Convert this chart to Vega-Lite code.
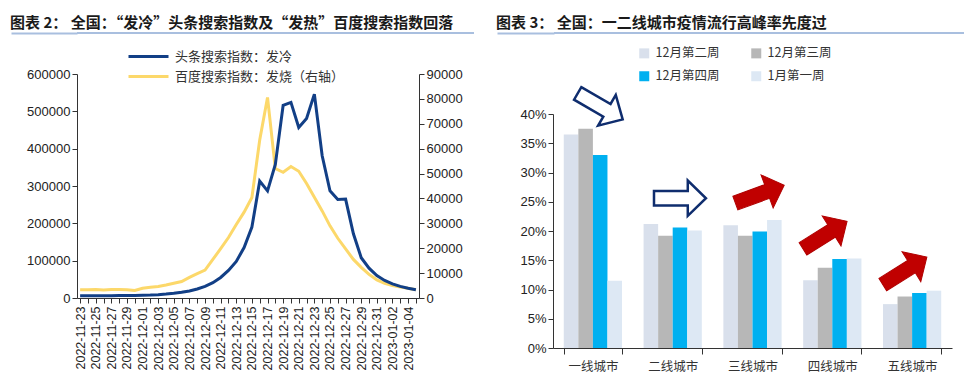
{
  "$schema": "https://vega.github.io/schema/vega-lite/v6.json",
  "padding": {"left": 10, "top": 16, "right": 0, "bottom": 0},
  "background": "white",
  "config": {
    "view": {"stroke": null},
    "font": "Noto Sans CJK SC",
    "axis": {"labelFont": "Liberation Sans", "labelFontSize": 13, "labelColor": "#222", "domainColor": "#333", "tickColor": "#333", "grid": false, "title": null, "tickSize": 5}
  },
  "resolve": {"scale": {"color": "independent"}, "legend": {"color": "independent"}},
  "datasets": {
    "trend": [
      {"d": "2022-11-23", "cold": 6000, "fever": 3300},
      {"d": "2022-11-24", "cold": 6000, "fever": 3300},
      {"d": "2022-11-25", "cold": 6000, "fever": 3400},
      {"d": "2022-11-26", "cold": 6200, "fever": 3200},
      {"d": "2022-11-27", "cold": 6300, "fever": 3400},
      {"d": "2022-11-28", "cold": 6500, "fever": 3400},
      {"d": "2022-11-29", "cold": 6800, "fever": 3300},
      {"d": "2022-11-30", "cold": 7000, "fever": 3000},
      {"d": "2022-12-01", "cold": 7500, "fever": 3900},
      {"d": "2022-12-02", "cold": 8000, "fever": 4300},
      {"d": "2022-12-03", "cold": 9000, "fever": 4600},
      {"d": "2022-12-04", "cold": 10500, "fever": 5200},
      {"d": "2022-12-05", "cold": 12500, "fever": 5900},
      {"d": "2022-12-06", "cold": 15500, "fever": 6600},
      {"d": "2022-12-07", "cold": 19000, "fever": 8300},
      {"d": "2022-12-08", "cold": 24000, "fever": 9800},
      {"d": "2022-12-09", "cold": 31000, "fever": 11200},
      {"d": "2022-12-10", "cold": 41000, "fever": 15500},
      {"d": "2022-12-11", "cold": 55000, "fever": 19800},
      {"d": "2022-12-12", "cold": 74000, "fever": 24300},
      {"d": "2022-12-13", "cold": 98000, "fever": 29500},
      {"d": "2022-12-14", "cold": 135000, "fever": 34500},
      {"d": "2022-12-15", "cold": 190000, "fever": 40400},
      {"d": "2022-12-16", "cold": 313000, "fever": 63500},
      {"d": "2022-12-17", "cold": 287000, "fever": 80600},
      {"d": "2022-12-18", "cold": 358000, "fever": 52000},
      {"d": "2022-12-19", "cold": 516000, "fever": 50500},
      {"d": "2022-12-20", "cold": 524000, "fever": 52800},
      {"d": "2022-12-21", "cold": 457000, "fever": 50900},
      {"d": "2022-12-22", "cold": 481000, "fever": 46000},
      {"d": "2022-12-23", "cold": 546000, "fever": 40500},
      {"d": "2022-12-24", "cold": 381000, "fever": 35000},
      {"d": "2022-12-25", "cold": 287000, "fever": 29000},
      {"d": "2022-12-26", "cold": 264000, "fever": 24000},
      {"d": "2022-12-27", "cold": 265000, "fever": 19700},
      {"d": "2022-12-28", "cold": 172000, "fever": 15500},
      {"d": "2022-12-29", "cold": 108000, "fever": 12300},
      {"d": "2022-12-30", "cold": 80000, "fever": 9500},
      {"d": "2022-12-31", "cold": 60000, "fever": 7300},
      {"d": "2023-01-01", "cold": 47000, "fever": 5900},
      {"d": "2023-01-02", "cold": 38000, "fever": 5000},
      {"d": "2023-01-03", "cold": 31000, "fever": 4400},
      {"d": "2023-01-04", "cold": 26000, "fever": 3900},
      {"d": "2023-01-05", "cold": 22000, "fever": 3300}
    ],
    "bars": [
      {"city": "一线城市", "week": "12月第二周", "rate": 0.365},
      {"city": "一线城市", "week": "12月第三周", "rate": 0.375},
      {"city": "一线城市", "week": "12月第四周", "rate": 0.33},
      {"city": "一线城市", "week": "1月第一周", "rate": 0.115},
      {"city": "二线城市", "week": "12月第二周", "rate": 0.212},
      {"city": "二线城市", "week": "12月第三周", "rate": 0.192},
      {"city": "二线城市", "week": "12月第四周", "rate": 0.206},
      {"city": "二线城市", "week": "1月第一周", "rate": 0.201},
      {"city": "三线城市", "week": "12月第二周", "rate": 0.21},
      {"city": "三线城市", "week": "12月第三周", "rate": 0.192},
      {"city": "三线城市", "week": "12月第四周", "rate": 0.199},
      {"city": "三线城市", "week": "1月第一周", "rate": 0.219},
      {"city": "四线城市", "week": "12月第二周", "rate": 0.116},
      {"city": "四线城市", "week": "12月第三周", "rate": 0.137},
      {"city": "四线城市", "week": "12月第四周", "rate": 0.152},
      {"city": "四线城市", "week": "1月第一周", "rate": 0.153},
      {"city": "五线城市", "week": "12月第二周", "rate": 0.075},
      {"city": "五线城市", "week": "12月第三周", "rate": 0.088},
      {"city": "五线城市", "week": "12月第四周", "rate": 0.094},
      {"city": "五线城市", "week": "1月第一周", "rate": 0.098}
    ],
    "arrows": [
      {"city": "一线城市", "week": "12月第四周", "rate": 0.413, "dir": 30, "trend": "回落"},
      {"city": "二线城市", "week": "12月第四周", "rate": 0.256, "dir": 0, "trend": "回落"},
      {"city": "三线城市", "week": "12月第四周", "rate": 0.263, "dir": -20, "trend": "上升"},
      {"city": "四线城市", "week": "12月第三周", "rate": 0.193, "dir": -32, "trend": "上升"},
      {"city": "五线城市", "week": "12月第三周", "rate": 0.132, "dir": -32, "trend": "上升"}
    ]
  },
  "columns": 2,
  "align": "none",
  "spacing": {"row": 13, "column": 22},
  "concat": [
    {
      "width": 397,
      "height": 2,
      "view": {"fill": "#a9bfdf", "stroke": null},
      "title": {"text": "图表 2：  全国：“发冷”头条搜索指数及“发热”百度搜索指数回落", "anchor": "start", "frame": "bounds", "fontSize": 15, "fontWeight": "bold", "font": "Noto Sans CJK SC", "color": "#1a1a1a", "offset": 1},
      "data": {"values": []},
      "mark": {"type": "point", "opacity": 0},
      "encoding": {
        "y": {"datum": 0, "type": "quantitative", "scale": {"domain": [-1, 1]},
              "axis": {"values": [0], "labels": false, "domain": false, "tickSize": 66, "tickColor": "#a9bfdf", "tickWidth": 2, "minExtent": 66, "maxExtent": 66}}
      }
    },
    {
      "width": 412,
      "height": 2,
      "view": {"fill": "#a9bfdf", "stroke": null},
      "title": {"text": "图表 3：  全国：一二线城市疫情流行高峰率先度过", "anchor": "start", "frame": "bounds", "fontSize": 15, "fontWeight": "bold", "font": "Noto Sans CJK SC", "color": "#1a1a1a", "offset": 1},
      "data": {"values": []},
      "mark": {"type": "point", "opacity": 0},
      "encoding": {
        "y": {"datum": 0, "type": "quantitative", "scale": {"domain": [-1, 1]},
              "axis": {"values": [0], "labels": false, "domain": false, "tickSize": 57, "tickColor": "#a9bfdf", "tickWidth": 2, "minExtent": 57, "maxExtent": 57}}
      }
    },
    {
      "width": 342,
      "height": 224,
      "data": {"name": "trend"},
      "encoding": {
        "x": {
          "field": "d", "type": "ordinal", "sort": null,
          "scale": {"padding": 0.4},
          "axis": {"labelAngle": -90, "labelExpr": "round(datum.index * 43) % 2 == 0 ? datum.label : ''", "labelOverlap": false, "labelFontSize": 12.5, "labelPadding": 3, "tickSize": 5}
        }
      },
      "layer": [
        {
          "mark": {"type": "line", "strokeWidth": 3},
          "encoding": {
            "y": {"field": "fever", "type": "quantitative", "scale": {"domain": [0, 90000]},
                  "axis": {"orient": "right", "values": [0, 10000, 20000, 30000, 40000, 50000, 60000, 70000, 80000, 90000], "format": "d", "minExtent": 50, "maxExtent": 50}},
            "color": {"datum": "百度搜索指数：发烧（右轴）", "type": "nominal"}
          }
        },
        {
          "mark": {"type": "line", "strokeWidth": 3},
          "encoding": {
            "y": {"field": "cold", "type": "quantitative", "scale": {"domain": [0, 600000]},
                  "axis": {"orient": "left", "values": [0, 100000, 200000, 300000, 400000, 500000, 600000], "format": "d", "minExtent": 66, "maxExtent": 66}},
            "color": {
              "datum": "头条搜索指数：发冷", "type": "nominal",
              "scale": {"domain": ["头条搜索指数：发冷", "百度搜索指数：发烧（右轴）"], "range": ["#123f86", "#fcd86a"]},
              "legend": {"title": null, "orient": "none", "legendX": 62, "legendY": -27, "direction": "vertical", "symbolType": "M -2.5 0 H 2.5", "symbolSize": 256, "symbolStrokeWidth": 3, "labelFont": "Noto Sans CJK SC", "labelFontSize": 13, "labelColor": "#333", "labelOffset": 17, "labelLimit": 300, "rowPadding": 3, "padding": 0}
            }
          }
        }
      ],
      "resolve": {"scale": {"y": "independent"}}
    },
    {
      "width": 399,
      "height": 234,
      "encoding": {
        "x": {"field": "city", "type": "nominal", "sort": ["一线城市", "二线城市", "三线城市", "四线城市", "五线城市"],
              "scale": {"paddingInner": 0.27, "paddingOuter": 0.135},
              "axis": {"labelAngle": 0, "labelFont": "Noto Sans CJK SC", "labelFontSize": 12.5, "labelColor": "#333", "tickBand": "extent", "tickSize": 6, "labelPadding": 6}},
        "xOffset": {"field": "week", "type": "nominal", "sort": ["12月第二周", "12月第三周", "12月第四周", "1月第一周"]},
        "y": {"field": "rate", "type": "quantitative", "scale": {"domain": [0, 0.4]},
              "axis": {"values": [0, 0.05, 0.1, 0.15, 0.2, 0.25, 0.3, 0.35, 0.4], "format": ".0%", "minExtent": 57, "maxExtent": 57, "labelOverlap": false}}
      },
      "layer": [
        {
          "data": {"name": "bars"},
          "mark": {"type": "bar"},
          "encoding": {
            "color": {
              "field": "week", "type": "nominal",
              "scale": {"domain": ["12月第二周", "12月第三周", "12月第四周", "1月第一周"], "range": ["#d9e0ec", "#b7b7b7", "#00b0f0", "#dde8f4"]},
              "legend": {"title": null, "orient": "none", "legendX": 85, "legendY": -67, "columns": 2, "direction": "horizontal", "columnPadding": 30, "rowPadding": 10, "symbolType": "square", "symbolSize": 100, "labelFont": "Noto Sans CJK SC", "labelFontSize": 12.5, "labelColor": "#333", "labelOffset": 5, "padding": 0}
            }
          }
        },
        {
          "data": {"name": "arrows"},
          "transform": [{"filter": "datum.trend == '回落'"}],
          "mark": {"type": "point", "shape": "M -1 -0.28 L 0.3 -0.28 L 0.3 -0.68 L 1 0 L 0.3 0.68 L 0.3 0.28 L -1 0.28 Z", "size": 2700, "filled": true, "fill": "white", "stroke": "#0f2d6e", "strokeWidth": 2.5, "opacity": 1},
          "encoding": {
            "angle": {"field": "dir", "type": "quantitative", "scale": null}
          }
        },
        {
          "data": {"name": "arrows"},
          "transform": [{"filter": "datum.trend == '上升'"}],
          "mark": {"type": "point", "shape": "M -1 -0.28 L 0.3 -0.28 L 0.3 -0.68 L 1 0 L 0.3 0.68 L 0.3 0.28 L -1 0.28 Z", "size": 2700, "filled": true, "fill": "#c00000", "stroke": "#b00000", "strokeWidth": 1, "opacity": 1},
          "encoding": {
            "angle": {"field": "dir", "type": "quantitative", "scale": null}
          }
        }
      ]
    }
  ]
}
